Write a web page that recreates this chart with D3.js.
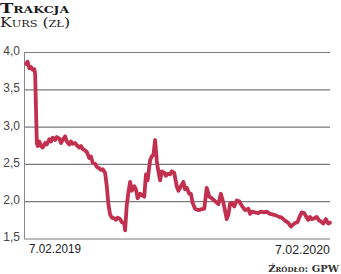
<!DOCTYPE html>
<meta charset="utf-8">
<style>
body { margin: 0; background: #fff; }
.tick text { font: 12px "Liberation Sans", sans-serif; fill: #444; }
</style>
<body>
<div id="draw"></div>
<script src="https://d3js.org/d3.v7.min.js"></script>
<script>

// kurs akcji, dni od 7.02.2019
var startDate = new Date(2019, 1, 7),
    endDate = new Date(2020, 1, 7);

var days = [0, 2, 4, 6, 8, 10, 11, 13, 14, 16, 18, 20, 23, 25, 28, 30, 32, 35, 37, 40,
  42, 44, 47, 49, 52, 54, 56, 59, 61, 64, 66, 68, 71, 73, 76, 78, 80, 83, 85, 88,
  90, 92, 95, 97, 99, 101, 103, 106, 108, 110, 113, 115, 118, 119, 121, 123, 125, 127, 130, 132,
  134, 137, 139, 142, 144, 146, 149, 151, 153, 155, 157, 158, 161, 163, 166, 168, 170, 173, 175, 178,
  181, 183, 186, 189, 191, 193, 196, 198, 200, 203, 207, 210, 214, 217, 220, 223, 227, 231, 234, 237,
  241, 243, 245, 247, 250, 253, 256, 259, 263, 267, 269, 271, 275, 279, 282, 286, 289, 293, 297, 300,
  304, 307, 311, 315, 318, 322, 326, 328, 331, 334, 336, 339, 341, 343, 346, 349, 352, 354, 357, 360,
  363, 365];

var kurs = [3.84, 3.87, 3.78, 3.80, 3.76, 3.77, 3.70, 2.78, 2.74, 2.80, 2.74, 2.72, 2.78, 2.76, 2.83, 2.80, 2.85, 2.82, 2.86, 2.84,
  2.78, 2.82, 2.87, 2.80, 2.76, 2.80, 2.77, 2.78, 2.75, 2.72, 2.74, 2.70, 2.68, 2.66, 2.58, 2.60, 2.52, 2.50, 2.46, 2.44,
  2.42, 2.43, 2.38, 2.20, 1.95, 1.82, 1.78, 1.77, 1.75, 1.78, 1.76, 1.72, 1.70, 1.61, 1.95, 2.12, 2.26, 2.14, 2.20, 2.16,
  2.04, 2.10, 2.08, 2.06, 2.36, 2.28, 2.55, 2.60, 2.62, 2.82, 2.55, 2.46, 2.28, 2.40, 2.38, 2.34, 2.37, 2.36, 2.40, 2.38,
  2.20, 2.14, 2.20, 2.26, 2.16, 2.18, 2.10, 2.10, 1.98, 1.90, 1.88, 1.89, 1.90, 2.18, 2.06, 2.04, 2.00, 1.96, 2.10, 1.98,
  1.76, 1.82, 1.97, 1.98, 1.93, 2.01, 2.00, 1.94, 1.88, 1.90, 1.83, 1.86, 1.85, 1.84, 1.86, 1.85, 1.86, 1.83, 1.82, 1.81,
  1.79, 1.78, 1.74, 1.71, 1.66, 1.70, 1.72, 1.78, 1.85, 1.84, 1.80, 1.75, 1.79, 1.76, 1.77, 1.79, 1.74, 1.73, 1.70, 1.76,
  1.70, 1.71];

var yTicks = [1.5, 2.0, 2.5, 3.0, 3.5, 4.0];
var xLabels = ["7.02.2019", "7.02.2020"];

var data = days.map(function(d, i) {
  return { date: d3.timeDay.offset(startDate, d), value: kurs[i] };
});

var width = 341, height = 274;

var x = d3.scaleTime()
    .domain([startDate, endDate])
    .range([26, 330]);

var y = d3.scaleLinear()
    .domain([1.5, 4.0])
    .range([238.5, 52]);

var svg = d3.select("#draw").append("svg")
    .attr("width", width)
    .attr("height", height);

// tytul
svg.append("text")
    .attr("x", 0).attr("y", 13)
    .attr("textLength", 69).attr("lengthAdjust", "spacingAndGlyphs")
    .style("font", "bold 13px 'DejaVu Serif', serif")
    .style("font-variant", "small-caps")
    .style("fill", "#1a1a1a")
    .text("Trakcja");

svg.append("text")
    .attr("x", 0).attr("y", 27)
    .attr("textLength", 70).attr("lengthAdjust", "spacingAndGlyphs")
    .style("font", "12.5px 'DejaVu Serif', serif")
    .style("font-variant", "small-caps")
    .style("fill", "#222")
    .text("Kurs (zł)");

// os y z siatka
var yAxis = d3.axisLeft(y)
    .tickValues(yTicks)
    .tickSize(-(330 - 24))
    .tickPadding(4)
    .tickFormat(function(d) { return d3.format(".1f")(d).replace(".", ","); });

var gy = svg.append("g")
    .attr("transform", "translate(24,0)")
    .call(yAxis);

gy.select(".domain").remove();
gy.selectAll(".tick line")
    .attr("stroke", "#7a7a7a")
    .attr("stroke-width", 1.2);
gy.selectAll(".tick text").attr("dy", "0.2em");

svg.append("line")
    .attr("x1", 24.5).attr("x2", 24.5)
    .attr("y1", y(4.0)).attr("y2", y(1.5))
    .attr("stroke", "#888")
    .attr("stroke-width", 1);

// linia kursu
var line = d3.line()
    .x(function(d) { return x(d.date); })
    .y(function(d) { return y(d.value); });

svg.append("path")
    .datum(data)
    .attr("d", line)
    .attr("fill", "none")
    .attr("stroke", "#c2304f")
    .attr("stroke-width", 3.8)
    .attr("stroke-linejoin", "round")
    .attr("stroke-linecap", "round");

// etykiety osi x
svg.append("text")
    .attr("x", 29).attr("y", 253)
    .attr("textLength", 52).attr("lengthAdjust", "spacingAndGlyphs")
    .style("font", "13px 'Liberation Sans', sans-serif")
    .style("fill", "#222")
    .text(xLabels[0]);

svg.append("text")
    .attr("x", 275).attr("y", 254)
    .attr("textLength", 55).attr("lengthAdjust", "spacingAndGlyphs")
    .style("font", "13px 'Liberation Sans', sans-serif")
    .style("fill", "#222")
    .text(xLabels[1]);

// zrodlo
svg.append("text")
    .attr("x", 339).attr("y", 272)
    .attr("text-anchor", "end")
    .style("font", "bold 10px 'DejaVu Serif', serif")
    .style("font-variant", "small-caps")
    .style("fill", "#333")
    .text("Źródło: GPW");

</script>
